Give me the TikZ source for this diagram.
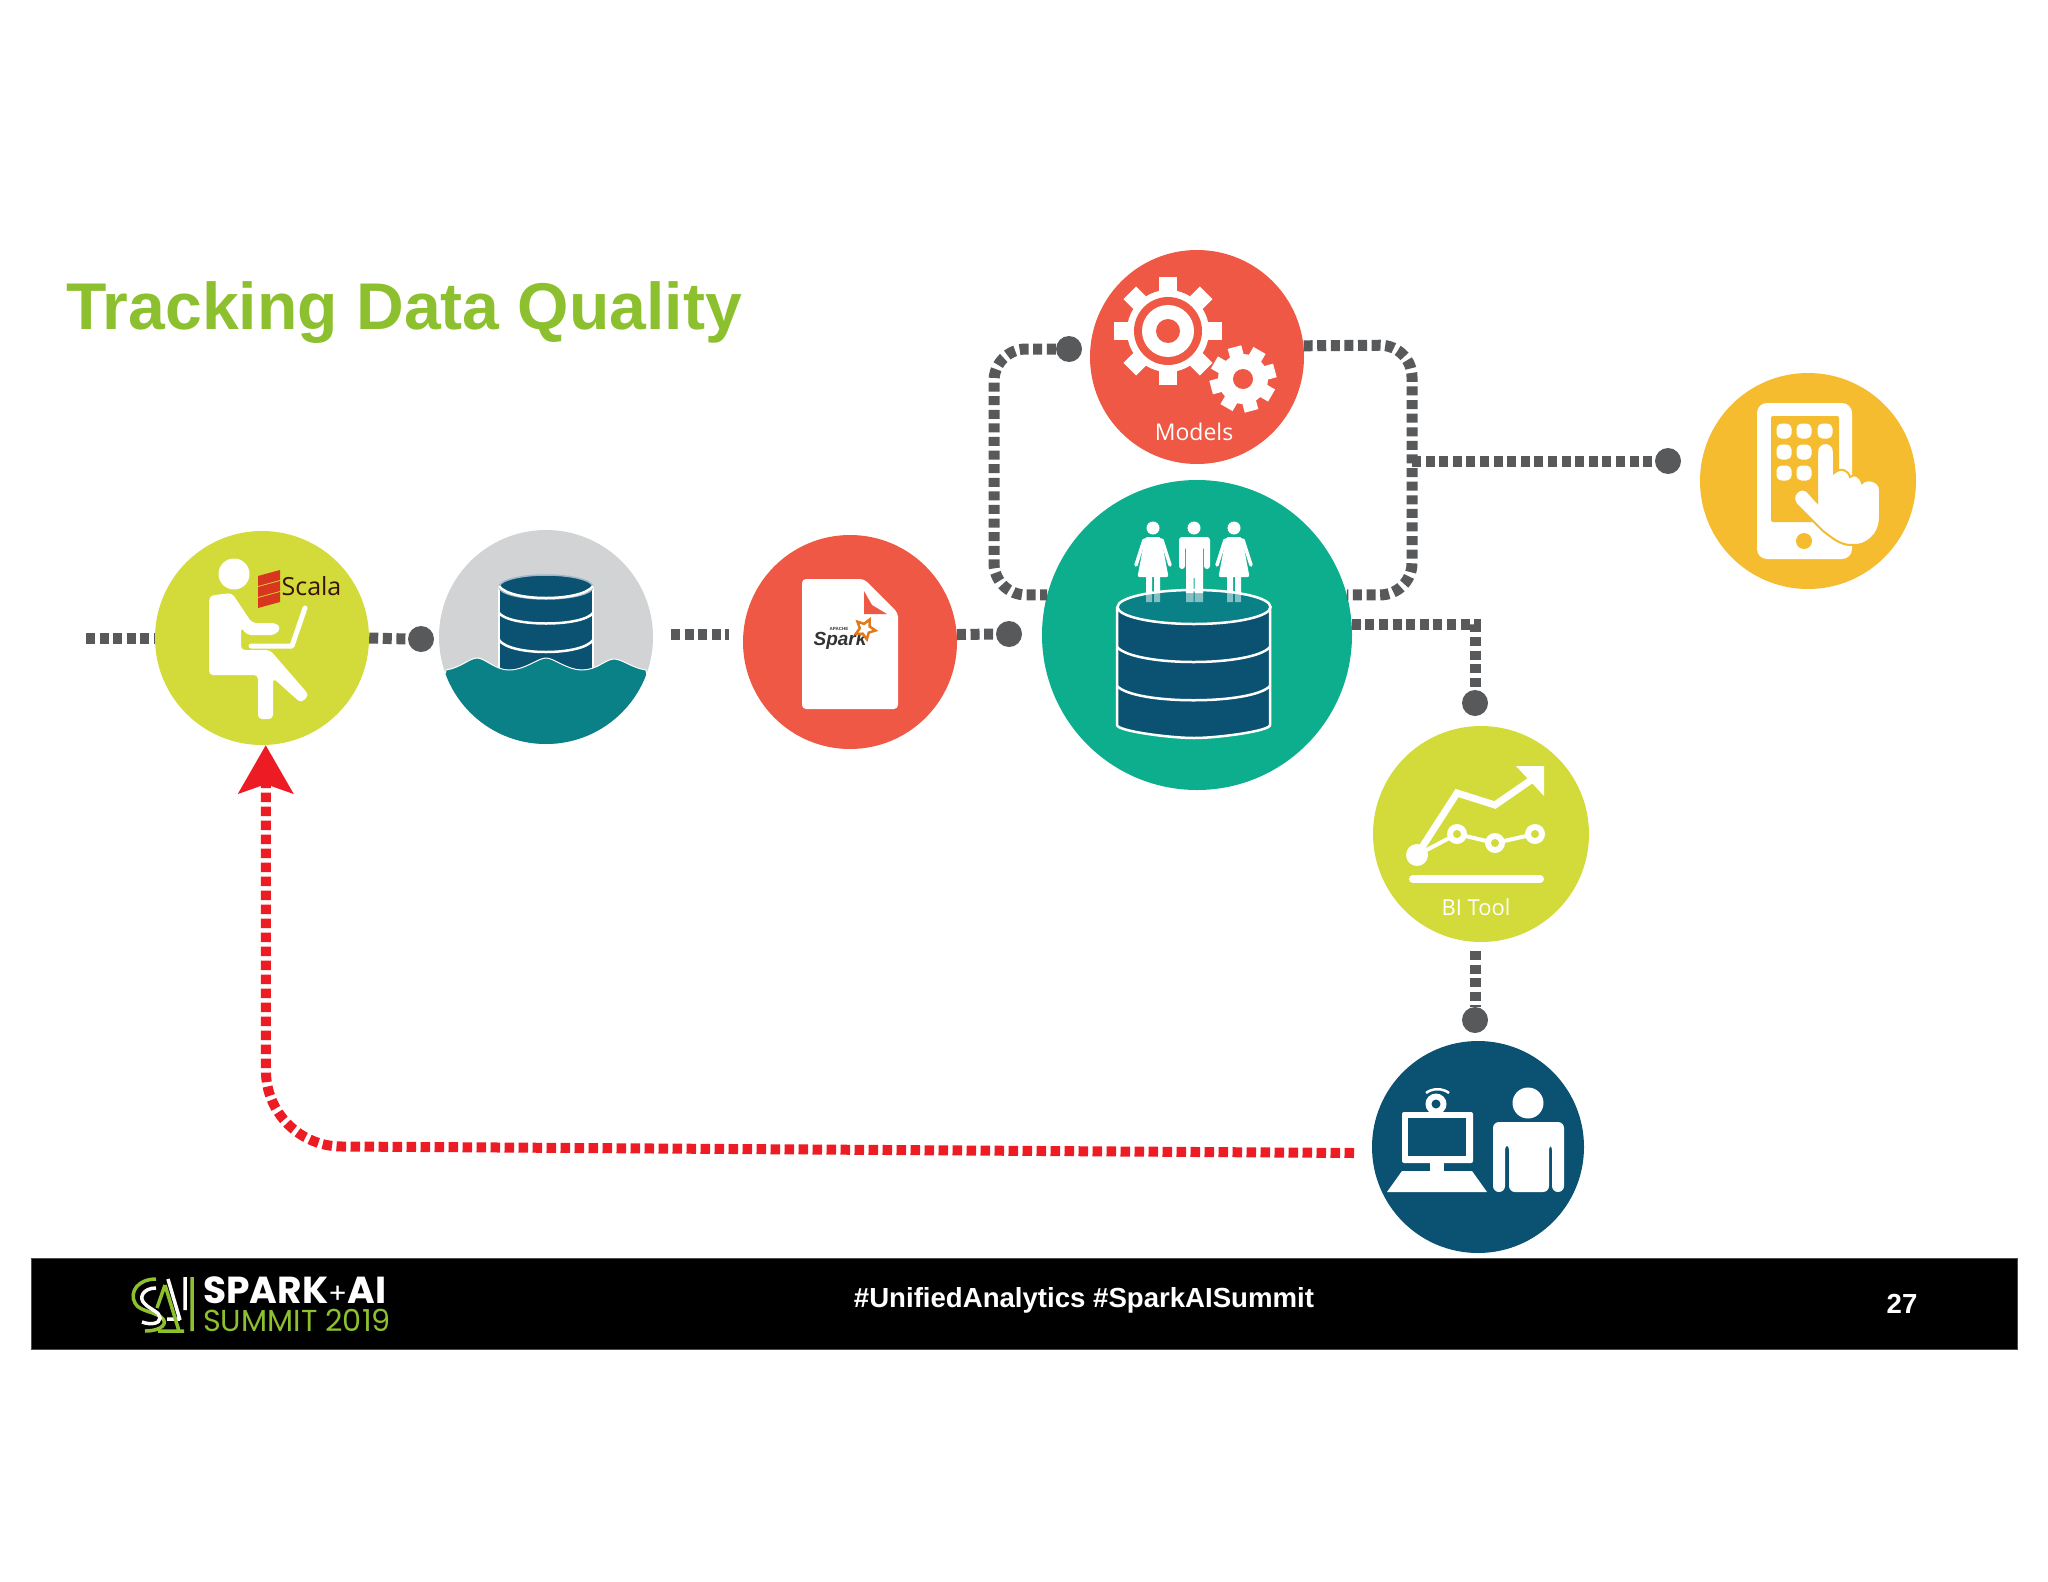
\documentclass[tikz,border=0pt]{standalone}
\usepackage{fontspec}
\usetikzlibrary{arrows.meta,shapes.geometric}
\setmainfont{Liberation Sans}
\newfontfamily\opensans{Open Sans}
\newfontfamily\poppins{Poppins}

\definecolor{limec}{HTML}{D2DB3A}
\definecolor{stonec}{HTML}{D1D3D4}
\definecolor{tealc}{HTML}{0A8087}
\definecolor{coralc}{HTML}{EF5845}
\definecolor{jadec}{HTML}{0DAE8D}
\definecolor{amberc}{HTML}{F5BC2F}
\definecolor{navyc}{HTML}{0A5172}
\definecolor{linec}{HTML}{58595B}
\definecolor{redc}{HTML}{ED1C24}
\definecolor{titlec}{HTML}{8DC02F}
\definecolor{scalac}{HTML}{D9361F}
\definecolor{scalatextc}{HTML}{3A1208}
\definecolor{starc}{HTML}{E2791B}

\tikzset{
	disc/.style={circle, inner sep=0, minimum size=214pt},
	dot/.style={circle, inner sep=0, minimum size=26pt, fill=linec},
	grayline/.style={draw=linec, line width=11pt, dash pattern=on 9pt off 4.6pt},
	redline/.style={draw=redc, line width=10pt, dash pattern=on 9.5pt off 4.5pt},
	bandline/.style={draw=white, line width=2.5pt},
	label/.style={inner sep=0, text=white, font=\opensans\fontsize{23}{27}\selectfont},
}

\begin{document}
\begin{tikzpicture}[x=1pt, y=-1pt]
	\useasboundingbox (0,0) rectangle (2048,1582);

	\node (title) [anchor=base west, inner sep=0, text=titlec, font=\bfseries\fontsize{66.1}{70}\selectfont] at (66,329) {Tracking Data Quality};

	\node (scala) [disc, fill=limec] at (262,638) {};
	\node (lake) [disc, fill=stonec] at (546,637) {};
	\node (spark) [disc, fill=coralc] at (850,642) {};
	\node (models) [disc, fill=coralc] at (1197,357) {};
	\node (house) [disc, fill=jadec, minimum size=310pt] at (1197,635) {};
	\node (phone) [disc, fill=amberc, minimum size=216pt] at (1808,481) {};
	\node (bi) [disc, fill=limec, minimum size=216pt] at (1481,834) {};
	\node (user) [disc, fill=navyc, minimum size=212pt] at (1478,1147) {};

	\node (d1) [dot] at (421,639) {};
	\node (d2) [dot] at (1069,349) {};
	\node (d3) [dot] at (1009,634) {};
	\node (d4) [dot] at (1668,461) {};
	\node (d5) [dot] at (1475,703) {};
	\node (d6) [dot] at (1475,1020) {};

	\coordinate (s0) at (86,638);
	\coordinate (s1) at (671,634);
	\coordinate (s2) at (729,634);
	\coordinate (s3) at (1412,461);
	\coordinate (s4) at (1475,951);
	\coordinate (r0) at (1354,1153);

	\path (s0) edge [grayline] (scala.west);
	\path (scala.east) edge [grayline] (d1.west);
	\path (s1) edge [grayline] (s2);
	\path (spark.4) edge [grayline] (d3.west);
	\path (s3) edge [grayline] (d4.west);
	\path (s4) edge [grayline] (d6.north);
	\draw [grayline, rounded corners=32pt] (d2.west) -- (994,349) -- (994,595) -- (house.165);
	\draw [grayline, rounded corners=32pt] (models.6) -- (1412,345) -- (1412,595) -- (house.15);
	\draw [grayline] (house.4) -| (d5.north);
	\draw [redline, rounded corners=75pt, -{Stealth[length=48pt, width=54pt, inset=9pt]}] (r0) -- (266,1146) -- (scala.272);

	\fill [white] (234,574) circle (15.5pt);
	\fill [white, rounded corners=4pt] (214,595) -- (232,593) -- (252,623) -- (276,623) -- (281,628) -- (275,635) -- (247,635) -- (241,627) -- (241,650) -- (270,650) -- (309,695) -- (301,703) -- (273,678) -- (273,719) -- (258,719) -- (258,675) -- (209,675) -- (209,597) -- cycle;
	\draw [white, line width=5pt, line cap=round, line join=round] (251,646) -- (292,646) -- (305,608);
	\foreach \off in {0,11,22}
		\fill [scalac] (258,576+\off) -- (280,570+\off) -- (280,580+\off) -- (258,586+\off) -- cycle;
	\node (scalatext) [inner sep=0, text=scalatextc, font=\opensans\fontsize{25}{28}\selectfont] at (311.5,586) {Scala};

	\fill [navyc] (499,587) -- (499,680) -- (593,680) -- (593,587) -- cycle;
	\draw [bandline] (499,587) -- (499,670) (593,587) -- (593,670);
	\fill [navyc, draw=white!60!navyc, line width=1.5pt] (546,587) ellipse (47pt and 12pt);
	\draw [bandline] (499,586) .. controls (510,602) and (582,602) .. (593,586);
	\draw [bandline] (499,613) .. controls (510,627) and (582,627) .. (593,613);
	\draw [bandline] (499,640) .. controls (510,656) and (582,656) .. (593,640);
	\begin{scope}
		\clip (lake.center) circle (107pt);
		\fill [tealc, draw=white, line width=1pt] (446,670) .. controls (460,668) and (470,658) .. (477,658) .. controls (485,658) and (495,670) .. (509,670) .. controls (525,670) and (538,658) .. (546,658) .. controls (554,658) and (567,670) .. (582,670) .. controls (597,670) and (606,659) .. (614,659) .. controls (622,659) and (632,668) .. (646,670) -- (660,760) -- (430,760) -- cycle;
	\end{scope}

	\fill [white, rounded corners=4pt] (802,579) -- (864,579) -- (898,613) -- (898,709) -- (802,709) -- cycle;
	\fill [coralc] (864,591) -- (864,614) -- (887,614) -- (872,605) -- cycle;
	\node (sparkword) [anchor=base, inner sep=0, text=black!80, font=\bfseries\itshape\fontsize{19}{21}\selectfont] at (840,645) {Spark};
	\node (sparkstar) [star, star points=5, star point ratio=2, inner sep=0, minimum size=21pt, draw=starc, line width=2.5pt, fill=white, rotate=-170] at (865,629) {};
	\node (apache) [inner sep=0, text=black!80, font=\bfseries\fontsize{4.5}{5}\selectfont] at (839,629) {APACHE};

	\foreach \gx/\gy/\gout/\gw/\gb/\gtilt in {1168/331/54/9/41/0, 1243/379/33/7/25/15}
		\foreach \a in {0,45,...,315}
			\fill [white, shift={(\gx,\gy)}, rotate=\a+\gtilt] (-\gw,0) -- (\gw,0) -- (\gw,\gout) -- (-\gw,\gout) -- cycle;
	\fill [white] (1168,331) circle (41pt);
	\fill [coralc] (1168,331) circle (34pt);
	\fill [white] (1168,331) circle (26pt);
	\fill [coralc] (1168,331) circle (12pt);
	\fill [white] (1243,379) circle (25pt);
	\fill [coralc] (1243,379) circle (10pt);
	\node (modelstext) [label] at (1194,432) {Models};

	\fill [navyc] (1117,607) -- (1117,725) .. controls (1117,731) and (1170,738) .. (1194,738) .. controls (1218,738) and (1270,731) .. (1270,725) -- (1270,607) -- cycle;
	\draw [bandline] (1117,607) -- (1117,725) .. controls (1117,731) and (1170,738) .. (1194,738) .. controls (1218,738) and (1270,731) .. (1270,725) -- (1270,607);
	\draw [bandline] (1117,647) .. controls (1135,667) and (1252,667) .. (1270,647);
	\draw [bandline] (1117,686) .. controls (1135,705) and (1252,705) .. (1270,686);
	\fill [tealc, draw=white, line width=2.5pt] (1194,607) ellipse (76.5pt and 17pt);
	\foreach \cx in {1153,1234} {
		\fill [white] (\cx,528) circle (6.5pt);
		\fill [white, rounded corners=2pt] (\cx-8,537) -- (\cx+8,537) -- (\cx+15.5,577) -- (\cx-15.5,577) -- cycle;
		\draw [white, line width=3.5pt, line cap=round] (\cx-9,540) -- (\cx-17,565) (\cx+9,540) -- (\cx+17,565);
		\fill [white] (\cx-7,577) rectangle (\cx-1,593) (\cx+1,577) rectangle (\cx+7,593);
		\fill [white, opacity=.5] (\cx-7,593) rectangle (\cx-1,602) (\cx+1,593) rectangle (\cx+7,602);
	}
	\fill [white] (1194,528) circle (6.5pt);
	\fill [white, rounded corners=3pt] (1179,537) -- (1210,537) -- (1210,569) -- (1204,569) -- (1204,546) -- (1203,546) -- (1203,578) -- (1186,578) -- (1186,546) -- (1185,546) -- (1185,569) -- (1179,569) -- cycle;
	\fill [white] (1186,575) rectangle (1193.5,593) (1194.5,575) rectangle (1203,593);
	\fill [white, opacity=.5] (1186,593) rectangle (1193.5,602) (1194.5,593) rectangle (1203,602);

	\fill [white, rounded corners=10pt] (1757,403) rectangle (1852,559);
	\fill [amberc, rounded corners=2pt] (1771,416) rectangle (1839,522);
	\fill [amberc] (1804,541) circle (8pt);
	\foreach \bx/\by in {1784/431, 1804/431, 1825/431, 1784/452, 1804/452, 1784/473, 1804/473}
		\fill [white, rounded corners=5pt] (\bx-7.5,\by-7.5) rectangle (\bx+7.5,\by+7.5);
	\fill [white, draw=amberc, line width=2pt] (1817,452) .. controls (1817,440) and (1834,440) .. (1834,452) -- (1834,473) .. controls (1841,467) and (1848,470) .. (1850,477) .. controls (1854,473) and (1860,476) .. (1862,483) .. controls (1866,478) and (1880,480) .. (1880,490) -- (1880,517) .. controls (1880,536) and (1865,546) .. (1853,545) .. controls (1840,546) and (1830,536) .. (1823,531) -- (1796,504) .. controls (1790,495) and (1800,486) .. (1807,491) -- (1817,502) -- cycle;

	\draw [white, line width=7pt, line join=miter] (1417,855) -- (1457,793) -- (1495,805) -- (1534,778);
	\fill [white] (1516,766) -- (1544,766) -- (1544,796) -- cycle;
	\fill [white] (1417,855) circle (11pt);
	\draw [white, line width=4pt] (1417,855) -- (1457,834) -- (1495,843) -- (1535,834);
	\foreach \px/\py in {1457/834, 1495/843, 1535/834} {
		\fill [white] (\px,\py) circle (10pt);
		\fill [limec] (\px,\py) circle (4pt);
	}
	\draw [white, line width=8pt, line cap=round] (1413,879) -- (1540,879);
	\node (bitext) [label, font=\opensans\fontsize{22}{26}\selectfont] at (1476,907) {BI Tool};

	\draw [white, line width=2.5pt] (1426,1093) .. controls (1432,1088) and (1443,1088) .. (1449,1093);
	\fill [white, rounded corners=2pt] (1402,1112) rectangle (1473,1163);
	\fill [navyc] (1408,1118) rectangle (1466,1156);
	\fill [white] (1436,1104) circle (10.5pt);
	\fill [navyc] (1436,1104) circle (4.5pt);
	\fill [white] (1430,1163) rectangle (1444,1171);
	\fill [white] (1402,1171) -- (1472,1171) -- (1487,1192) -- (1387,1192) -- cycle;
	\fill [white] (1528,1103) circle (15.5pt);
	\fill [white, rounded corners=6pt] (1493,1192) -- (1493,1122) -- (1564,1122) -- (1564,1192) -- (1552,1192) -- (1552,1144) -- (1549,1144) -- (1549,1192) -- (1509,1192) -- (1509,1144) -- (1505,1144) -- (1505,1192) -- cycle;

	\node (footer) [inner sep=0, fill=black, draw=black!70, line width=1pt, minimum width=1986pt, minimum height=91pt] at (1024,1303.5) {};
	\node (tags) [inner sep=0, text=white, font=\bfseries\fontsize{27.6}{30}\selectfont] at (1084,1300) {\#UnifiedAnalytics \#SparkAISummit};
	\node (pageno) [inner sep=0, text=white, font=\bfseries\fontsize{27.6}{30}\selectfont] at (1902,1304) {27};
	\node (sparkai) [anchor=base west, inner sep=0, text=white, font=\poppins\bfseries\fontsize{37.6}{40}\selectfont] at (203,1303) {SPARK{\mdseries\fontsize{28}{30}\selectfont+}AI};
	\node (summit) [anchor=base west, inner sep=0, text=titlec, font=\poppins\fontsize{30.3}{32}\selectfont] at (203,1331) {SUMMIT 2019};

	\draw [titlec, line width=3.5pt] (156,1279) .. controls (138,1279) and (129,1292) .. (135,1303) .. controls (139,1311) and (152,1311) .. (161,1317) .. controls (169,1323) and (162,1331) .. (145,1331);
	\draw [white, line width=3.5pt] (156,1288) .. controls (143,1288) and (138,1298) .. (145,1304) .. controls (151,1310) and (160,1312) .. (160,1318) .. controls (160,1324) and (150,1325) .. (142,1322);
	\draw [white, line width=3.5pt] (168,1279) -- (180,1320) (185,1277) -- (185,1310) (167,1319) -- (180,1319);
	\draw [titlec, line width=3.5pt] (165,1285) -- (179,1331) (165,1285) -- (157,1308) (158,1331) -- (184,1331) (192,1277) -- (192,1331);
\end{tikzpicture}
\end{document}
